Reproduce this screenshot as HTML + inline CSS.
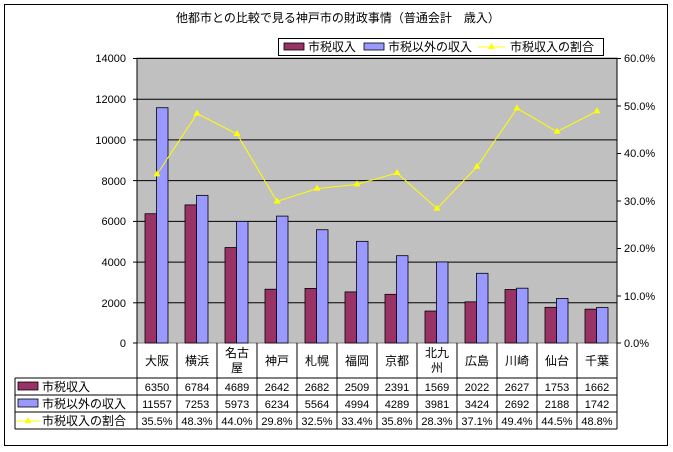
<!DOCTYPE html><html><head><meta charset="utf-8"><style>body{margin:0;background:#fff}svg{display:block;font-family:"Liberation Sans","Noto Sans CJK JP",sans-serif}</style></head><body>
<svg width="673" height="452" viewBox="0 0 673 452">
<rect x="4.5" y="4.5" width="663" height="441" fill="#fff" stroke="#000"/>
<text x="338" y="22" font-size="12" text-anchor="middle">他都市との比較で見る神戸市の財政事情（普通会計　歳入）</text>
<rect x="137" y="58" width="480" height="285" fill="#c0c0c0" stroke="#808080"/>
<g stroke="#000" stroke-width="1">
<line x1="137" y1="58.5" x2="617" y2="58.5"/><line x1="137" y1="99.2" x2="617" y2="99.2"/><line x1="137" y1="139.9" x2="617" y2="139.9"/><line x1="137" y1="180.6" x2="617" y2="180.6"/><line x1="137" y1="221.4" x2="617" y2="221.4"/><line x1="137" y1="262.1" x2="617" y2="262.1"/><line x1="137" y1="302.8" x2="617" y2="302.8"/>
<line x1="137" y1="58" x2="137" y2="343"/><line x1="617" y1="58" x2="617" y2="343"/>
<line x1="133" y1="58.5" x2="137" y2="58.5"/><line x1="133" y1="99.2" x2="137" y2="99.2"/><line x1="133" y1="139.9" x2="137" y2="139.9"/><line x1="133" y1="180.6" x2="137" y2="180.6"/><line x1="133" y1="221.4" x2="137" y2="221.4"/><line x1="133" y1="262.1" x2="137" y2="262.1"/><line x1="133" y1="302.8" x2="137" y2="302.8"/><line x1="133" y1="343" x2="137" y2="343"/>
<line x1="617" y1="58.5" x2="621" y2="58.5"/><line x1="617" y1="106" x2="621" y2="106"/><line x1="617" y1="153.5" x2="621" y2="153.5"/><line x1="617" y1="201" x2="621" y2="201"/><line x1="617" y1="248.5" x2="621" y2="248.5"/><line x1="617" y1="296" x2="621" y2="296"/><line x1="617" y1="343" x2="621" y2="343"/>
</g>
<g font-size="11" text-anchor="end">
<text x="126" y="62">14000</text><text x="126" y="103">12000</text><text x="126" y="144">10000</text><text x="126" y="185">8000</text><text x="126" y="225">6000</text><text x="126" y="266">4000</text><text x="126" y="307">2000</text><text x="126" y="347">0</text>
</g>
<g font-size="11">
<text x="624" y="62">60.0%</text><text x="624" y="110">50.0%</text><text x="624" y="157">40.0%</text><text x="624" y="205">30.0%</text><text x="624" y="252">20.0%</text><text x="624" y="300">10.0%</text><text x="624" y="347">0.0%</text>
</g>
<g id="bars" stroke="#000" stroke-width="0.8"></g>
<polyline id="line" fill="none" stroke="#ffff00" stroke-width="1"/>
<g id="marks" fill="#ffff00"></g>
<rect x="278.5" y="38.5" width="325" height="17" fill="#fff" stroke="#000"/>
<rect x="284" y="43" width="20" height="7" fill="#993366" stroke="#000" stroke-width="0.8"/>
<text x="308" y="51" font-size="12">市税収入</text>
<rect x="364" y="43" width="20" height="7" fill="#9999ff" stroke="#000" stroke-width="0.8"/>
<text x="388" y="51" font-size="12">市税以外の収入</text>
<line x1="478" y1="47" x2="505" y2="47" stroke="#ffff00"/><polygon points="491.5,43 495,49 488,49" fill="#ffff00"/>
<text x="510" y="51" font-size="12">市税収入の割合</text>
<g id="table" font-size="11"></g>
</svg>
<script>
var n=["大阪","横浜","名古屋","神戸","札幌","福岡","京都","北九州","広島","川崎","仙台","千葉"];
var a=[6350,6784,4689,2642,2682,2509,2391,1569,2022,2627,1753,1662];
var b=[11557,7253,5973,6234,5564,4994,4289,3981,3424,2692,2188,1742];
var p=[35.5,48.3,44.0,29.8,32.5,33.4,35.8,28.3,37.1,49.4,44.5,48.8];
var ns="http://www.w3.org/2000/svg";
function el(t,at,par,txt){var e=document.createElementNS(ns,t);for(var k in at)e.setAttribute(k,at[k]);if(txt!=null)e.textContent=txt;document.getElementById(par).appendChild(e);return e;}
var cw=40,x0=137,pts=[];
for(var i=0;i<12;i++){var x=x0+i*cw;
var ha=a[i]/14000*285,hb=b[i]/14000*285;
el("rect",{x:x+8,y:343-ha,width:11.5,height:ha,fill:"#993366"},"bars");
el("rect",{x:x+19.5,y:343-hb,width:11.5,height:hb,fill:"#9999ff"},"bars");
var cx=x+20,cy=343-p[i]/60*285;pts.push(cx+","+cy);
el("polygon",{points:cx+","+(cy-4)+" "+(cx+3.5)+","+(cy+2)+" "+(cx-3.5)+","+(cy+2)},"marks");
}
document.getElementById("line").setAttribute("points",pts.join(" "));
var T="table";
var L={stroke:"#000","stroke-width":1};
function ln(x1,y1,x2,y2){var o={x1:x1,y1:y1,x2:x2,y2:y2};for(var k in L)o[k]=L[k];el("line",o,T);}
ln(15,378,617,378);ln(15,395,617,395);ln(15,412,617,412);ln(15,429,617,429);ln(15,378,15,429);
for(var i=0;i<=12;i++)ln(137+i*cw,343,137+i*cw,429);
for(var i=0;i<12;i++){var cx=137+i*cw+20,s=n[i];
if(s.length==3){el("text",{x:cx,y:357,"text-anchor":"middle","font-size":"12"},T,s.slice(0,2));el("text",{x:cx,y:372,"text-anchor":"middle","font-size":"12"},T,s.slice(2));}
else el("text",{x:cx,y:365,"text-anchor":"middle","font-size":"12"},T,s);
el("text",{x:cx,y:391,"text-anchor":"middle"},T,a[i]);
el("text",{x:cx,y:408,"text-anchor":"middle"},T,b[i]);
el("text",{x:cx,y:425,"text-anchor":"middle"},T,p[i].toFixed(1)+"%");}
el("rect",{x:18,y:382,width:20,height:8,fill:"#993366",stroke:"#000","stroke-width":0.8},T);
el("text",{x:42,y:391,"font-size":"12"},T,"市税収入");
el("rect",{x:18,y:399,width:20,height:8,fill:"#9999ff",stroke:"#000","stroke-width":0.8},T);
el("text",{x:42,y:408,"font-size":"12"},T,"市税以外の収入");
el("line",{x1:16,y1:421,x2:40,y2:421,stroke:"#ffff00"},T);
el("polygon",{points:"28,417 31.5,423 24.5,423",fill:"#ffff00"},T);
el("text",{x:42,y:425,"font-size":"12"},T,"市税収入の割合");
</script>
</body></html>
